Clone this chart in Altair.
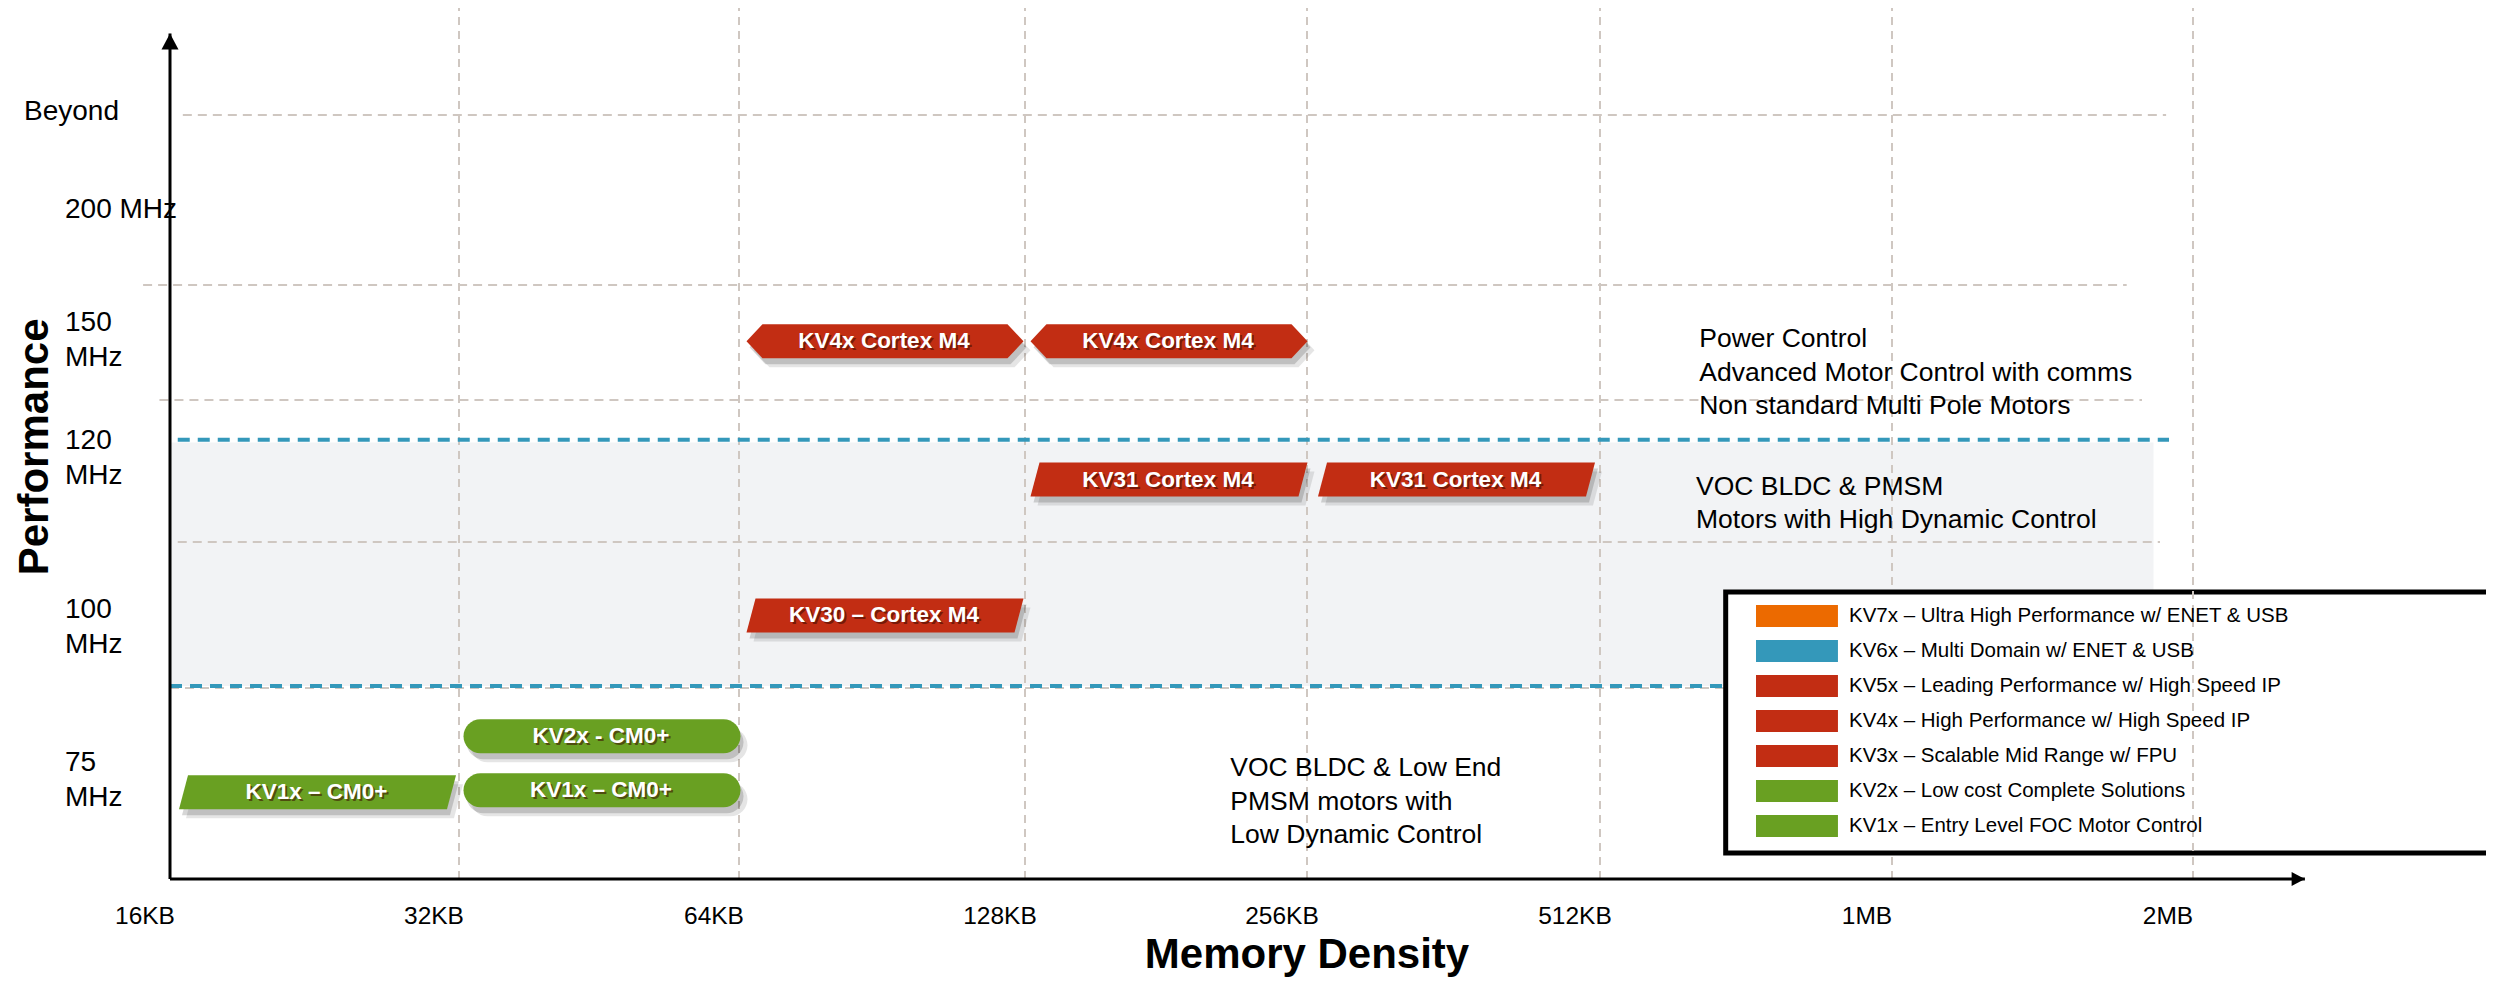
import math
import altair as alt
import pandas as pd

# ---------------- memory density (x) ----------------
mem_kb = [16, 32, 64, 128, 256, 512, 1024, 2048]
mem_labels = ["16KB", "32KB", "64KB", "128KB", "256KB", "512KB", "1MB", "2MB"]

# ---------------- performance tiers (y) ----------------
tier_text = ["75\nMHz", "100\nMHz", "120\nMHz", "150\nMHz", "200 MHz", "Beyond"]
tier_pos = [0.60, 1.53, 2.71, 3.67, 4.44, 5.02]

# ---------------- families (legend) ----------------
family_names = [
    "KV7x – Ultra High Performance w/ ENET & USB",
    "KV6x – Multi Domain w/ ENET & USB",
    "KV5x – Leading Performance w/ High Speed IP",
    "KV4x – High Performance w/ High Speed IP",
    "KV3x –  Scalable Mid Range w/ FPU",
    "KV2x  – Low cost  Complete Solutions",
    "KV1x  – Entry Level FOC Motor Control",
]
family_colors = ["#EC6A00", "#3498BA", "#C22D13", "#C22D13", "#C22D13", "#69A022", "#69A022"]

# ---------------- product bars ----------------
bar_family_idx = [6, 6, 5, 4, 4, 4, 3, 3]
bar_text = ["KV1x – CM0+", "KV1x – CM0+", "KV2x - CM0+", "KV30 – Cortex M4",
            "KV31  Cortex M4", "KV31  Cortex M4", "KV4x Cortex M4", "KV4x Cortex M4"]
bar_start_kb = [16, 32, 32, 64, 128, 256, 64, 128]
bar_end_kb = [32, 64, 64, 128, 256, 512, 128, 256]
bar_tier = [0.45, 0.46, 0.74, 1.49, 2.44, 2.44, 3.51, 3.51]
bar_form = ["slant", "pill", "pill", "slant", "slant", "slant", "hex", "hex"]

# ---------------- application notes ----------------
note_text = [
    "Power Control\nAdvanced Motor Control with comms\nNon standard Multi Pole Motors",
    "VOC BLDC & PMSM\nMotors with High Dynamic Control",
    "VOC BLDC & Low End\nPMSM motors with\nLow Dynamic Control",
]
note_kb = [648, 643, 212]
note_tier = [3.53, 2.39, 0.575]

# ---------------- guides ----------------
hgrid_tier = [5.0, 4.0, 3.0, 2.0, 0.99]
hgrid_from_kb = [16.5, 15.0, 15.6, 16.3, 16.0]
hgrid_to_kb = [1925, 1758, 1821, 1898, 1938]
blue_tier = [2.72, 1.0]
blue_from_kb = [16.3, 16.0]
blue_to_kb = [1938, 1938]
band_kb = [16, 1870]
band_tier = [1.0, 2.70]
grid_top_tier = 5.63
axis_top_tier = 5.48
axis_end_kb = 2650
legend_box_kb = [690, 5000]
legend_box_tier = [0.135, 1.653]


def dbl(kb):
    return math.log2(kb / 16.0)


xs = alt.Scale(type="linear", domain=[0, 1, 2, 3, 4, 5, 6, 7],
               range=[162, 451, 731, 1017, 1299, 1592, 1884, 2185], zero=False, nice=False)
ys = alt.Scale(type="linear", domain=[0, 1, 2, 3, 4, 5],
               range=[871, 678, 534, 392, 277, 107], zero=False, nice=False)


def X(f):
    return alt.X(f + ":Q", scale=xs, axis=None)


def Y(f):
    return alt.Y(f + ":Q", scale=ys, axis=None)


FONT = "Liberation Sans"

band_df = pd.DataFrame({"m0": [dbl(band_kb[0])], "m1": [dbl(band_kb[1])],
                        "t0": [band_tier[0]], "t1": [band_tier[1]]})
band = alt.Chart(band_df).mark_rect(color="#F2F3F5").encode(
    x=X("m0"), x2="m1", y=Y("t0"), y2="t1")

hgrid_df = pd.DataFrame({"t": hgrid_tier, "m0": [dbl(v) for v in hgrid_from_kb],
                         "m1": [dbl(v) for v in hgrid_to_kb]})
hgrid = alt.Chart(hgrid_df).mark_rule(color="#CFC7C1", strokeWidth=2, strokeDash=[9, 6]).encode(
    x=X("m0"), x2="m1", y=Y("t"))

vgrid_df = pd.DataFrame({"m": [dbl(v) for v in mem_kb[1:]], "kb": mem_kb[1:],
                         "t0": [0.0] * 7, "t1": [grid_top_tier] * 7})
vgrid = alt.Chart(vgrid_df).mark_rule(color="#CFC7C1", strokeWidth=2, strokeDash=[8, 6]).encode(
    x=X("m"), y=Y("t0"), y2="t1")

blue_df = pd.DataFrame({"t": blue_tier, "m0": [dbl(v) for v in blue_from_kb],
                        "m1": [dbl(v) for v in blue_to_kb]})
blue = alt.Chart(blue_df).mark_rule(color="#3498BA", strokeWidth=4, strokeDash=[12, 8]).encode(
    x=X("m0"), x2="m1", y=Y("t"))

notes_df = pd.DataFrame({"text": note_text, "m": [dbl(v) for v in note_kb], "t": note_tier})
notes = alt.Chart(notes_df).mark_text(
    font=FONT, fontSize=26.5, align="left", baseline="middle", lineBreak="\n",
    lineHeight=33.5, color="#000000").encode(x=X("m"), y=Y("t"), text="text:N")

box_df = pd.DataFrame({"m0": [dbl(legend_box_kb[0])], "m1": [dbl(legend_box_kb[1])],
                       "t0": [legend_box_tier[0]], "t1": [legend_box_tier[1]]})
box = alt.Chart(box_df).mark_rect(fill="#FFFFFF", stroke="#000000", strokeWidth=5).encode(
    x=X("m0"), x2="m1", y=Y("t0"), y2="t1")

vgrid_top = alt.Chart(vgrid_df).transform_filter("datum.kb == 2048").mark_rule(
    color="#CFC7C1", strokeWidth=2, strokeDash=[8, 6]).encode(x=X("m"), y=Y("t0"), y2="t1")

axes_df = pd.DataFrame({"m0": [0.0, 0.0], "m1": [0.0, dbl(axis_end_kb)],
                        "t0": [0.0, 0.0], "t1": [axis_top_tier, 0.0]})
axes = alt.Chart(axes_df).mark_rule(color="#000000", strokeWidth=3).encode(
    x=X("m0"), x2="m1", y=Y("t0"), y2="t1")

arrow_y = alt.Chart(pd.DataFrame({"m": [0.0], "t": [axis_top_tier]})).mark_point(
    filled=True, color="#000000", opacity=1, size=289, strokeOpacity=0,
    shape="M0,0 L1,1.9 L-1,1.9 Z").encode(x=X("m"), y=Y("t"))
arrow_x = alt.Chart(pd.DataFrame({"m": [dbl(axis_end_kb)], "t": [0.0]})).mark_point(
    filled=True, color="#000000", opacity=1, size=196, strokeOpacity=0,
    shape="M0,0 L-1.9,-1 L-1.9,1 Z").encode(x=X("m"), y=Y("t"))

forms = ["slant", "hex", "pill"]
paths = [
    "M-8.147,1 L7.617,1 L8.147,-1 L-7.617,-1 Z",
    "M-8.147,0 L-7.207,-1 L7.207,-1 L8.147,0 L7.207,1 L-7.207,1 Z",
    "M-7.147,-1 L7.147,-1 C7.699,-1 8.147,-0.552 8.147,0 C8.147,0.552 7.699,1 7.147,1 "
    "L-7.147,1 C-7.699,1 -8.147,0.552 -8.147,0 C-8.147,-0.552 -7.699,-1 -7.147,-1 Z",
]
shape_scale = alt.Scale(domain=forms, range=paths)

bars_df = pd.DataFrame({
    "family": [family_names[i] for i in bar_family_idx],
    "text": bar_text,
    "mid": [(dbl(a) + dbl(b)) / 2 for a, b in zip(bar_start_kb, bar_end_kb)],
    "t": bar_tier,
    "form": bar_form,
})

shadow1 = alt.Chart(bars_df).mark_point(
    filled=True, color="#000000", opacity=0.10, size=1156, strokeOpacity=0,
    xOffset=10, yOffset=9).encode(
    x=X("mid"), y=Y("t"), shape=alt.Shape("form:N", scale=shape_scale, legend=None))
shadow2 = alt.Chart(bars_df).mark_point(
    filled=True, color="#000000", opacity=0.16, size=1156, strokeOpacity=0,
    xOffset=6, yOffset=6).encode(
    x=X("mid"), y=Y("t"), shape=alt.Shape("form:N", scale=shape_scale, legend=None))

legend_symbol = "M-1,-1 L6.45,-1 L6.45,1 L-1,1 Z"
bars = alt.Chart(bars_df).mark_point(
    filled=True, opacity=1, size=1156, strokeOpacity=0, xOffset=3).encode(
    x=X("mid"), y=Y("t"),
    shape=alt.Shape("form:N", scale=shape_scale, legend=None),
    color=alt.Color("family:N", scale=alt.Scale(domain=family_names, range=family_colors),
                    legend=alt.Legend(title=None, orient="none", legendX=1748, legendY=597,
                                      symbolType=legend_symbol, symbolSize=484,
                                      symbolStrokeWidth=0, symbolOpacity=1,
                                      labelFont=FONT, labelFontSize=20.5, labelColor="#000000",
                                      labelOffset=71, rowPadding=13, labelLimit=800,
                                      padding=0)),
)

label_shadow = alt.Chart(bars_df).mark_text(
    font=FONT, fontSize=22.5, fontWeight="bold", color="#3A0A00", opacity=0.55,
    dx=4, dy=2).encode(x=X("mid"), y=Y("t"), text="text:N")
labels = alt.Chart(bars_df).mark_text(
    font=FONT, fontSize=22.5, fontWeight="bold", color="#FFFFFF", dx=2).encode(
    x=X("mid"), y=Y("t"), text="text:N")

tiers_df = pd.DataFrame({"text": tier_text, "t": tier_pos, "m": [0.0] * len(tier_pos)})
tiers = alt.Chart(tiers_df).transform_filter("datum.text != 'Beyond'").mark_text(
    font=FONT, fontSize=28, align="left", baseline="middle", lineBreak="\n", lineHeight=35,
    color="#000000", dx=-105).encode(x=X("m"), y=Y("t"), text="text:N")
tiers_top = alt.Chart(tiers_df).transform_filter("datum.text == 'Beyond'").mark_text(
    font=FONT, fontSize=28, align="left", baseline="middle",
    color="#000000", dx=-146).encode(x=X("m"), y=Y("t"), text="text:N")

ticks_df = pd.DataFrame({"text": mem_labels, "m": [dbl(v) for v in mem_kb], "t": [0.0] * 8})
ticks = alt.Chart(ticks_df).mark_text(
    font=FONT, fontSize=24.5, align="center", baseline="middle", color="#000000",
    dx=-25, dy=38).encode(x=X("m"), y=Y("t"), text="text:N")

titles_df = pd.DataFrame({"text": ["Memory Density"], "m": [dbl(256)], "t": [0.0]})
xtitle = alt.Chart(titles_df).mark_text(
    font=FONT, fontSize=42, fontWeight="bold", align="center", baseline="middle",
    color="#000000", dy=76).encode(x=X("m"), y=Y("t"), text="text:N")
ytitle_df = pd.DataFrame({"text": ["Performance"], "m": [0.0], "t": [2.67]})
ytitle = alt.Chart(ytitle_df).mark_text(
    font=FONT, fontSize=42, fontWeight="bold", align="center", baseline="middle",
    color="#000000", angle=270, dy=-135).encode(x=X("m"), y=Y("t"), text="text:N")

chart = alt.layer(
    band, hgrid, vgrid, blue, notes, box, vgrid_top, axes, arrow_y, arrow_x,
    shadow1, shadow2, bars, label_shadow, labels, tiers, tiers_top, ticks, xtitle, ytitle,
).properties(
    width=2478, height=970,
    autosize=alt.AutoSizeParams(type="none"),
    padding=0,
    background="#FFFFFF",
).configure_view(stroke=None)

chart.save("out.html", embed_options={"renderer": "svg", "actions": False})
